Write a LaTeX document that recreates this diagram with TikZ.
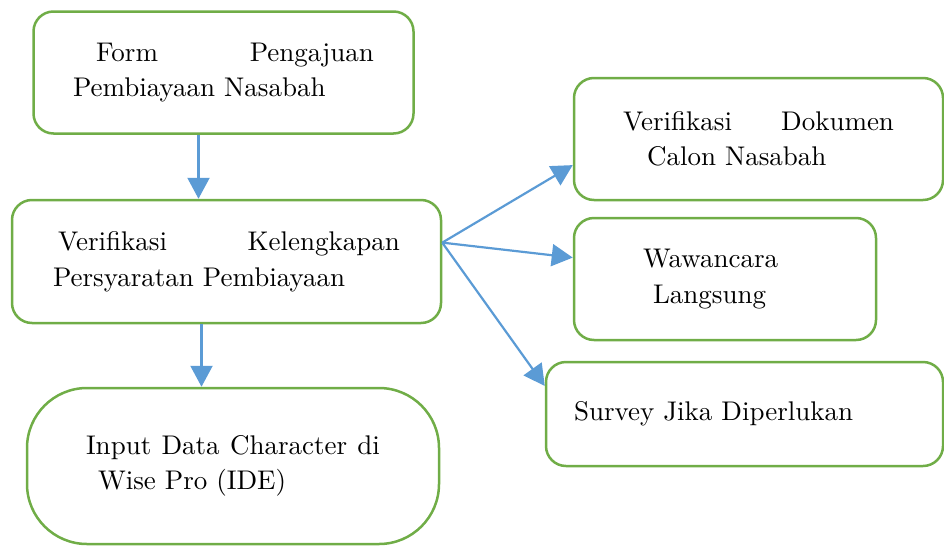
\documentclass[tikz,border=0pt]{standalone}
\usetikzlibrary{arrows.meta}
\definecolor{boxgreen}{HTML}{70AD47}
\definecolor{flowblue}{HTML}{5B9BD5}
% Latin Modern, 10pt design scaled up
\font\boxfnt="[lmroman10-regular]:mapping=tex-text" at 27pt
\begin{document}
\begin{tikzpicture}[x=1pt,y=-1pt,
    stepbox/.style={draw=boxgreen,line width=2.5pt,rounded corners=20pt,align=left,inner sep=0pt,
        font=\fontsize{27}{35.5}\selectfont\boxfnt},
    flow/.style={flowblue,line width=2.2pt,-{Triangle[length=21pt,width=22pt]}}]
    \useasboundingbox (0,0) rectangle (944,546);

    % Left column
    \node[stepbox,minimum width=380pt,minimum height=122pt,text width=301pt] (form) at (223.5,72.5)
        {\hspace*{23pt}Form\hfill Pengajuan\\Pembiayaan Nasabah};
    \node[stepbox,minimum width=429pt,minimum height=123pt,text width=347pt] (verif) at (226.5,261.5)
        {\hspace*{5pt}Verifikasi\hfill Kelengkapan\\Persyaratan Pembiayaan};
    \node[stepbox,rounded corners=60pt,minimum width=412pt,minimum height=156pt,text width=294pt] (input) at (233,466)
        {Input\hfill Data\hfill Character\hfill di\\\hspace*{12pt}Wise Pro (IDE)};

    % Right column
    \node[stepbox,minimum width=369pt,minimum height=122pt,text width=271pt] (dokumen) at (758.5,139)
        {Verifikasi\hfill Dokumen\hspace*{-14pt}\\\hspace*{24pt}Calon Nasabah};
    \node[stepbox,minimum width=302pt,minimum height=122pt,text width=164pt] (wawancara) at (725,279)
        {Wawancara\\\hspace*{10pt}Langsung};
    \node[stepbox,minimum width=397pt,minimum height=104pt,text width=341pt] (survey) at (744.5,414)
        {Survey Jika Diperlukan};

    % Arrows down
    \draw[flow] ([xshift=-25pt]form.south) -- ([xshift=-25pt]form.south |- verif.north);
    \draw[flow] ([xshift=-25pt]verif.south) -- ([xshift=-25pt]verif.south |- input.north);

    % Arrows to the right
    \draw[flow] (verif.5) -- (dokumen.188);
    \draw[flow] (verif.5) -- (wawancara.172);
    \draw[flow] (verif.5) -- (survey.172);
\end{tikzpicture}
\end{document}
